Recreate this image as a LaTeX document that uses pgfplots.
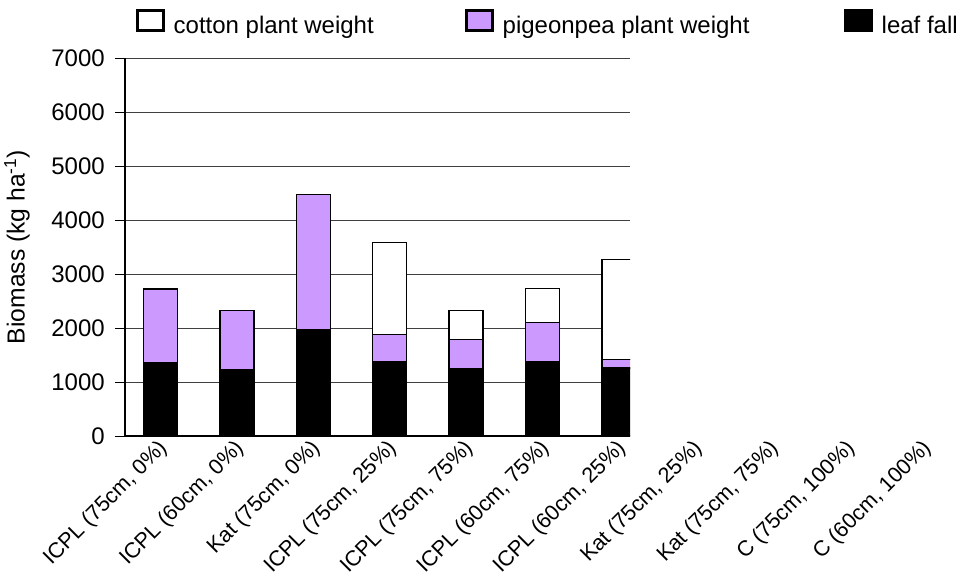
\documentclass[border=0pt]{standalone}
\usepackage{pgfplots}
\pgfplotsset{compat=1.18}
\usepackage{fontspec}
\setmainfont{Liberation Sans}
\definecolor{pp}{RGB}{204,153,255}
\begin{document}
\begin{tikzpicture}
\useasboundingbox (0,0) rectangle (725.25pt,-431.25pt);
% axis A : bars
\begin{axis}[
  at={(93.75pt,-327pt)}, anchor=south west,
  scale only axis, width=378.75pt, height=283.5pt,
  xmin=-0.465, xmax=6.145, ymin=0, ymax=7000,
  ybar stacked, bar width=25.5pt,
  axis lines*=left,
  axis line style={black, line width=0.8pt},
  xtick=\empty,
  ytick={0,1000,...,7000},
  ymajorgrids, grid style={black!75, line width=0.7pt},
  tick align=outside, major tick length=7.5pt,
  tick style={black, line width=0.7pt},
  /pgf/number format/assume math mode=true,
  /pgf/number format/1000 sep={},
  scaled y ticks=false,
  yticklabel style={font=\fontsize{18}{21}\selectfont, inner sep=0pt, xshift=-7.5pt},
  ylabel={Biomass (kg ha\textsuperscript{-1})},
  ylabel style={font=\fontsize{18.5}{21}\selectfont, at={(axis description cs:-0.2139,0.5)}, anchor=center},
  legend columns=3,
  legend style={draw=none, fill=none, inner sep=0pt, outer sep=0pt,
    column sep=0pt, at={(axis description cs:0.0218,1.0939)}, anchor=west,
    nodes={inner sep=0pt, font=\fontsize{18}{21}\selectfont}},
  legend image code/.code={\draw[#1, line width=2.2pt] (1.1pt,-3.6pt) rectangle (20.65pt,11.45pt);},
]
\addplot[fill=black, draw=black, line width=1.1pt, forget plot] coordinates {(0,1350) (1,1230) (2,1970) (3,1376) (4,1253) (5,1376) (6,1262)};
\addplot[fill=pp, draw=black, line width=1.1pt, forget plot] coordinates {(0,1370) (1,1090) (2,2505) (3,507) (4,537) (5,722) (6,158)};
\addplot[fill=white, draw=black, line width=1.1pt, forget plot] coordinates {(0,0) (1,0) (2,0) (3,1702) (4,530) (5,630) (6,1852)};
\addlegendimage{fill=white, draw=black}
\addlegendentry{\makebox[225pt][l]{\hspace{6.5pt}cotton plant weight}}
\addlegendimage{fill=pp, draw=black}
\addlegendentry{\makebox[262.5pt][l]{\hspace{6.5pt}pigeonpea plant weight}}
\addlegendimage{fill=black, draw=black}
\addlegendentry{\hspace{6.5pt}leaf fall}
\end{axis}
% axis B : category labels
\begin{axis}[
  at={(93.75pt,-327pt)}, anchor=south west,
  scale only axis, width=616.8pt, height=283.5pt,
  xmin=-0.465, xmax=10.3, ymin=0, ymax=7000,
  hide y axis,
  axis x line*=bottom, x axis line style={draw=none},
  major tick length=0pt,
  xtick={0,1,...,10},
  xticklabels={{ICPL (75cm, 0\%)},{ICPL (60cm, 0\%)},{Kat (75cm, 0\%)},{ICPL (75cm, 25\%)},{ICPL (75cm, 75\%)},{ICPL (60cm, 75\%)},{ICPL (60cm, 25\%)},{Kat (75cm, 25\%)},{Kat (75cm, 75\%)},{C (75cm, 100\%)},{C (60cm, 100\%)}},
  xticklabel style={font=\fontsize{16.2}{19}\selectfont, rotate=45, anchor=north east, inner sep=0pt, xshift=-2.9pt, yshift=1.06pt},
]
\end{axis}
\end{tikzpicture}
\end{document}
